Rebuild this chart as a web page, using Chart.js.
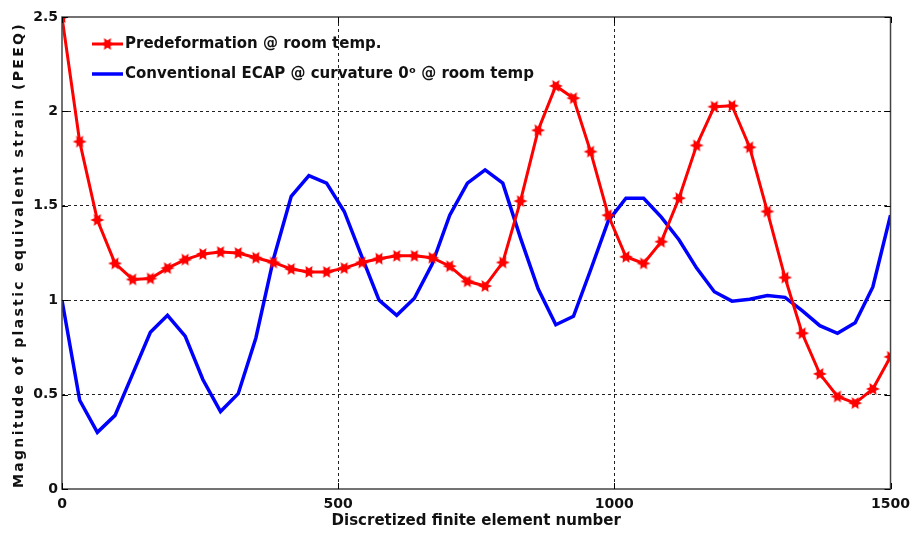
<!DOCTYPE html>
<html>
<head>
<meta charset="utf-8">
<script src="https://cdn.jsdelivr.net/npm/chart.js@4.4.0/dist/chart.umd.min.js"></script>
<style>
html, body { margin: 0; padding: 0; background: #fff; }
#wrap { width: 917px; height: 533px; }
</style>
</head>
<body>
<div id="wrap"><canvas id="strainChart" width="917" height="533"></canvas></div>
<script>
// ====================
// Data
// ====================
const elementNo = [0, 32, 64, 96, 128, 160, 191, 223, 255, 287, 319, 351, 383, 415, 447, 479,
    511, 543, 574, 606, 638, 670, 702, 734, 766, 798, 830, 862, 894, 926, 957, 989,
    1021, 1053, 1085, 1117, 1149, 1181, 1213, 1245, 1277, 1309, 1340, 1372, 1404, 1436, 1468, 1500];
const predefStrain = [2.50, 1.84, 1.425, 1.195, 1.11, 1.115, 1.17, 1.215, 1.245, 1.255, 1.25, 1.225, 1.20, 1.165, 1.15, 1.15,
    1.17, 1.20, 1.22, 1.235, 1.235, 1.225, 1.18, 1.10, 1.075, 1.20, 1.525, 1.90, 2.135, 2.07, 1.787, 1.45,
    1.23, 1.195, 1.31, 1.54, 1.82, 2.025, 2.03, 1.81, 1.47, 1.12, 0.825, 0.61, 0.49, 0.455, 0.53, 0.70];
const ecapStrain = [1.00, 0.47, 0.30, 0.39, 0.61, 0.83, 0.92, 0.81, 0.58, 0.41, 0.505, 0.80, 1.22, 1.55, 1.66, 1.62,
    1.47, 1.23, 1.00, 0.92, 1.01, 1.19, 1.45, 1.62, 1.69, 1.62, 1.33, 1.06, 0.87, 0.915, 1.16, 1.42,
    1.54, 1.54, 1.44, 1.32, 1.17, 1.045, 0.995, 1.005, 1.025, 1.015, 0.945, 0.865, 0.825, 0.88, 1.07, 1.45];
const xTicks = [0, 500, 1000, 1500];
const yTicks = [0, 0.5, 1, 1.5, 2, 2.5];
const seriesNames = ["Predeformation @ room temp.", "Conventional ECAP @ curvature 0\u1D52 @ room temp"];

const FONT = "'DejaVu Sans', Verdana, sans-serif";
const RED = "#ff0000";
const BLUE = "#0000ff";

// ====================
// Hexagram marker
// ====================
function makeStar(r, color) {
    const c = document.createElement("canvas");
    c.width = c.height = r * 2 + 2;
    const g = c.getContext("2d");
    const cx = r + 1, cy = r + 1;
    g.beginPath();
    for (let i = 0; i < 12; i++) {
        const a = Math.PI / 6 * i;
        const rr = i % 2 === 0 ? r : r * 0.5;
        const px = cx + rr * Math.cos(a), py = cy + rr * Math.sin(a);
        if (i === 0) g.moveTo(px, py); else g.lineTo(px, py);
    }
    g.closePath();
    g.fillStyle = color;
    g.fill();
    return c;
}
const starImg = makeStar(7, RED);

function toPoints(xs, ys) {
    return xs.map((x, i) => ({ x: x, y: ys[i] }));
}

// ====================
// Frame, ticks, legend and y title
// ====================
const framePlugin = {
    id: "frame",
    afterDraw(chart) {
        const { ctx, chartArea: a, scales } = chart;
        ctx.save();
        // box
        ctx.strokeStyle = "#444";
        ctx.lineWidth = 1.5;
        ctx.strokeRect(a.left, a.top, a.right - a.left, a.bottom - a.top);
        // inward tick marks
        ctx.lineWidth = 1;
        ctx.strokeStyle = "#000";
        ctx.beginPath();
        xTicks.forEach(v => {
            const px = Math.round(scales.x.getPixelForValue(v)) + 0.5;
            ctx.moveTo(px, a.bottom); ctx.lineTo(px, a.bottom - 6);
            ctx.moveTo(px, a.top); ctx.lineTo(px, a.top + 6);
        });
        yTicks.forEach(v => {
            const py = Math.round(scales.y.getPixelForValue(v)) + 0.5;
            ctx.moveTo(a.left, py); ctx.lineTo(a.left + 6, py);
            ctx.moveTo(a.right, py); ctx.lineTo(a.right - 6, py);
        });
        ctx.stroke();

        // legend
        const lx = a.left + 30, ly = [a.top + 27, a.top + 57];
        ctx.lineWidth = 3;
        ctx.strokeStyle = RED;
        ctx.beginPath(); ctx.moveTo(lx, ly[0]); ctx.lineTo(lx + 31, ly[0]); ctx.stroke();
        ctx.drawImage(starImg, lx + 15.5 - starImg.width / 2, ly[0] - starImg.height / 2);
        ctx.lineWidth = 3.5;
        ctx.strokeStyle = BLUE;
        ctx.beginPath(); ctx.moveTo(lx, ly[1]); ctx.lineTo(lx + 31, ly[1]); ctx.stroke();
        ctx.fillStyle = "#111";
        ctx.font = "bold 15px " + FONT;
        ctx.textBaseline = "middle";
        ctx.textAlign = "left";
        ctx.fillText(seriesNames[0], lx + 33, ly[0]);
        ctx.fillText(seriesNames[1], lx + 33, ly[1]);

        // y title, letter-spaced like the original
        const title = "Magnitude of plastic equivalent strain (PEEQ)";
        ctx.font = "bold 14px " + FONT;
        const w = ctx.measureText(title).width;
        const spacing = Math.max(0, (466 - w) / title.length);
        ctx.letterSpacing = spacing.toFixed(2) + "px";
        ctx.translate(19, (a.top + a.bottom) / 2 + 2);
        ctx.rotate(-Math.PI / 2);
        ctx.textAlign = "center";
        ctx.fillText(title, 0, 0);
        ctx.restore();
    }
};

const gridColor = ctx => (ctx.tick && (ctx.index === 0 || ctx.index === ctx.chart.scales[ctx.scale.id].ticks.length - 1)) ? "rgba(0,0,0,0)" : "#222";

new Chart(document.getElementById("strainChart").getContext("2d"), {
    type: "line",
    data: {
        datasets: [{
            label: seriesNames[0],
            data: toPoints(elementNo, predefStrain),
            borderColor: RED,
            backgroundColor: RED,
            borderWidth: 3,
            pointStyle: starImg,
            pointRadius: 7,
            tension: 0
        }, {
            label: seriesNames[1],
            data: toPoints(elementNo, ecapStrain),
            borderColor: BLUE,
            backgroundColor: BLUE,
            borderWidth: 3.5,
            pointRadius: 0,
            tension: 0
        }]
    },
    options: {
        responsive: false,
        animation: false,
        layout: { padding: { top: 17, right: 25, left: 0, bottom: 0 } },
        plugins: { legend: { display: false }, tooltip: { enabled: false } },
        scales: {
            x: {
                type: "linear",
                min: 0, max: 1500,
                afterBuildTicks: s => { s.ticks = xTicks.map(v => ({ value: v })); },
                afterFit: s => { s.height = 44; },
                ticks: { color: "#111", font: { family: FONT, size: 14, weight: "bold" }, padding: 7, maxRotation: 0,
                    callback: v => String(v) },
                grid: { color: gridColor, lineWidth: 1, drawTicks: false },
                border: { display: false, dash: [3, 3] },
                title: { display: true, text: "Discretized finite element number", color: "#111",
                    font: { family: FONT, size: 15, weight: "bold" }, padding: { top: 0, bottom: 3 } }
            },
            y: {
                min: 0, max: 2.5,
                afterBuildTicks: s => { s.ticks = yTicks.map(v => ({ value: v })); },
                afterFit: s => { s.width = 62; },
                ticks: { color: "#111", font: { family: FONT, size: 14, weight: "bold" }, padding: 4,
                    callback: v => String(v) },
                grid: { color: gridColor, lineWidth: 1, drawTicks: false },
                border: { display: false, dash: [3, 3] }
            }
        }
    },
    plugins: [framePlugin]
});
</script>
</body>
</html>
